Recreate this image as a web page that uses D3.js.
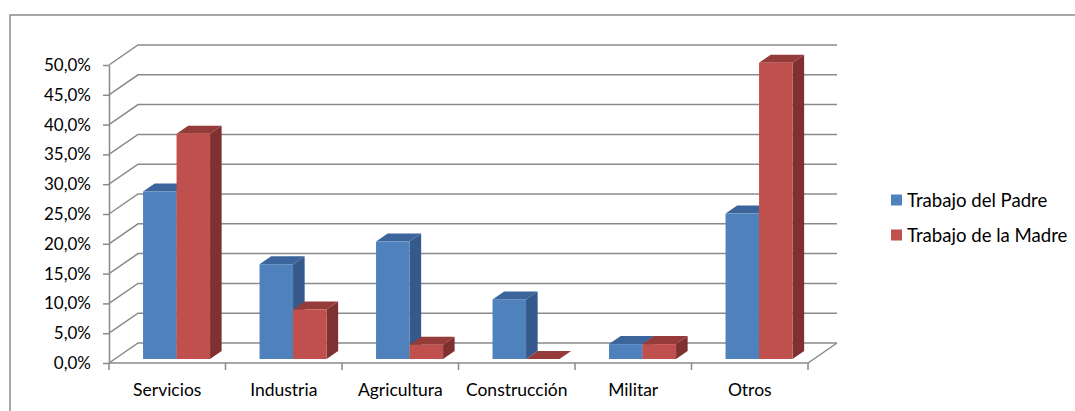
<!DOCTYPE html>
<html>
<head>
<meta charset="utf-8">
<script src="https://cdn.jsdelivr.net/npm/d3@7"></script>
<style>
  body { margin: 0; background: #fff; }
  text { font-family: Carlito, Calibri, Lato, sans-serif; fill: #000; }
</style>
</head>
<body>
<div id="chart"></div>
<script>
// data
var categories = ["Servicios", "Industria", "Agricultura", "Construcción", "Militar", "Otros"];
var series = ["Trabajo del Padre", "Trabajo de la Madre"];
var padre = [0.281, 0.159, 0.197, 0.100, 0.025, 0.244];
var madre = [0.378, 0.083, 0.024, 0.000, 0.025, 0.497];
var yTicks = [0, 0.05, 0.10, 0.15, 0.20, 0.25, 0.30, 0.35, 0.40, 0.45, 0.50];

var svgWidth = 1075;
var svgHeight = 411;

// front plane of the 3d box, depth offset of the back wall
var plot = { left: 109, right: 808, top: 65, bottom: 363 };
var DX = 29, DY = -20;
// bars sit between these depth fractions
var d0 = 0.2, d1 = 0.6;

var faceColors = {
  "Trabajo del Padre": { front: "#4f81bd", side: "#34598a", top: "#3c669b" },
  "Trabajo de la Madre": { front: "#c0504d", side: "#7e3130", top: "#953b39" }
};

var svg = d3.select("#chart")
  .append("svg")
  .attr("width", svgWidth)
  .attr("height", svgHeight);

// outer chart border
svg.append("rect")
  .attr("x", 10)
  .attr("y", 15)
  .attr("width", 1100)
  .attr("height", 420)
  .attr("fill", "none")
  .attr("stroke", "#8a8a8a")
  .attr("stroke-width", 1.5);

var x = d3.scaleBand()
  .domain(categories)
  .range([plot.left, plot.right]);

var y = d3.scaleLinear()
  .domain([0, 0.5])
  .range([plot.bottom, plot.top]);

var groupWidth = 67;
var x1 = d3.scaleBand()
  .domain(series)
  .range([0, groupWidth]);
var groupShift = (x.bandwidth() - groupWidth) / 2 + 3.5;

var locale = d3.formatLocale({ decimal: ",", thousands: ".", grouping: [3], currency: ["", "€"] });
var pct = locale.format(".1%");

// back wall gridlines with the left wall diagonals
svg.append("g")
  .selectAll("path")
  .data(yTicks)
  .enter()
  .append("path")
  .attr("d", function(t) {
    var yy = y(t);
    return "M" + plot.left + "," + yy +
      "L" + (plot.left + DX) + "," + (yy + DY) +
      "L" + (plot.right + DX) + "," + (yy + DY);
  })
  .attr("fill", "none")
  .attr("stroke", "#8a8a8a")
  .attr("stroke-width", 1.5);

// floor front and right edges
svg.append("path")
  .attr("d", "M" + plot.left + "," + y(0) + "L" + plot.right + "," + y(0) +
    "L" + (plot.right + DX) + "," + (y(0) + DY))
  .attr("fill", "none")
  .attr("stroke", "#8a8a8a")
  .attr("stroke-width", 1.5);

// bars
var rows = [];
categories.forEach(function(c, i) {
  rows.push({ cat: c, s: series[0], v: padre[i] });
  rows.push({ cat: c, s: series[1], v: madre[i] });
});

var bars = svg.append("g")
  .selectAll("g")
  .data(rows)
  .enter()
  .append("g");

function pt(px, py) { return px + "," + py; }

bars.each(function(d) {
  var g = d3.select(this);
  var xl = x(d.cat) + groupShift + x1(d.s) + DX * d0;
  var xr = xl + x1.bandwidth();
  var yb = y(0) + DY * d0;
  var yt = y(d.v) + DY * d0;
  var ddx = DX * (d1 - d0), ddy = DY * (d1 - d0);
  var col = faceColors[d.s];

  g.append("polygon")
    .attr("points", [pt(xr, yb), pt(xr + ddx, yb + ddy), pt(xr + ddx, yt + ddy), pt(xr, yt)].join(" "))
    .attr("fill", col.side);
  g.append("polygon")
    .attr("points", [pt(xl, yt), pt(xr, yt), pt(xr + ddx, yt + ddy), pt(xl + ddx, yt + ddy)].join(" "))
    .attr("fill", col.top);
  g.append("rect")
    .attr("x", xl)
    .attr("y", yt)
    .attr("width", xr - xl)
    .attr("height", yb - yt)
    .attr("fill", col.front);
});

// y axis
var leftAxis = d3.axisLeft(y)
  .tickValues(yTicks)
  .tickSize(6)
  .tickSizeOuter(0)
  .tickPadding(12)
  .tickFormat(pct);

var yAxis = svg.append("g")
  .attr("transform", "translate(" + plot.left + ",0)")
  .call(leftAxis);
yAxis.selectAll("path, line").attr("stroke", "#8a8a8a").attr("stroke-width", 1.5);
yAxis.selectAll("text")
  .style("font-size", "17px")
  .style("font-family", "Lato, sans-serif");

// x axis: labels at category centres, ticks on the boundaries
var bottomAxis = d3.axisBottom(x)
  .tickSize(0)
  .tickPadding(21);

var xAxis = svg.append("g")
  .attr("transform", "translate(0," + plot.bottom + ")")
  .call(bottomAxis);
xAxis.select(".domain").remove();
xAxis.selectAll("text")
  .style("font-size", "17.5px")
  .style("font-family", "Lato, sans-serif");

var bounds = categories.map(function(c) { return x(c); }).concat([plot.right]);
svg.append("g")
  .selectAll("line")
  .data(bounds)
  .enter()
  .append("line")
  .attr("x1", function(d) { return d; })
  .attr("x2", function(d) { return d; })
  .attr("y1", plot.bottom)
  .attr("y2", plot.bottom + 7)
  .attr("stroke", "#8a8a8a")
  .attr("stroke-width", 1.5);

// legend
var legend = svg.append("g")
  .selectAll("g")
  .data(series)
  .enter()
  .append("g")
  .attr("transform", function(d, i) { return "translate(891," + (200 + i * 35) + ")"; });

legend.append("rect")
  .attr("x", 0)
  .attr("y", -5.5)
  .attr("width", 11)
  .attr("height", 11)
  .attr("fill", function(d) { return faceColors[d].front; });

legend.append("text")
  .attr("x", 16)
  .attr("y", 0)
  .attr("dy", "0.35em")
  .style("font-size", "18.6px")
  .style("font-family", "Lato, sans-serif")
  .text(function(d) { return d; });
</script>
</body>
</html>
